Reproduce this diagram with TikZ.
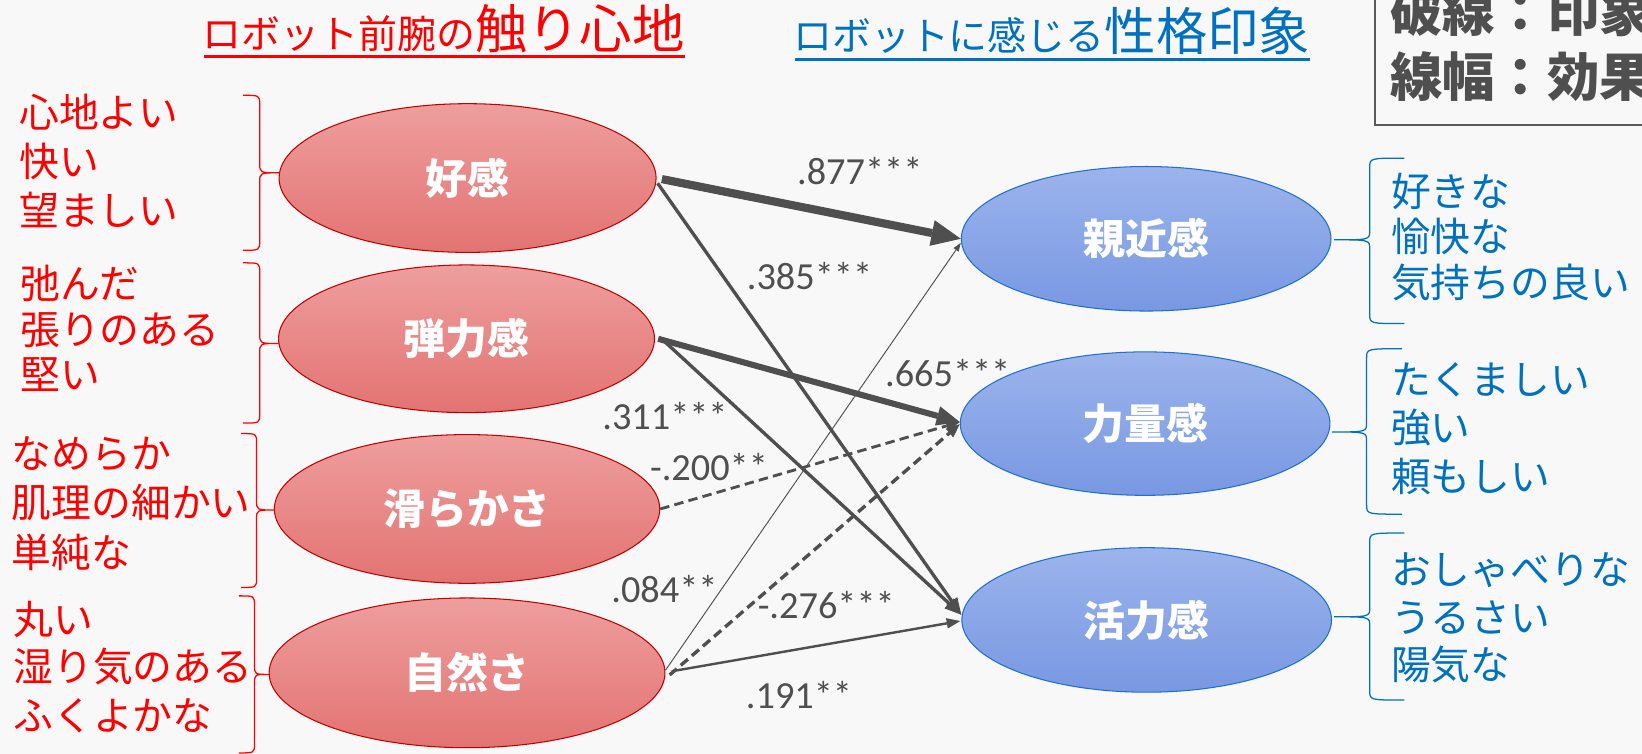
\documentclass[tikz,border=0pt]{standalone}
\usepackage{fontspec}
\newfontfamily\jp{Noto Sans CJK JP}
\newfontfamily\lat{Carlito}
\usetikzlibrary{shapes.geometric,arrows.meta}
\definecolor{bgc}{HTML}{F8F8F8}
\definecolor{tred}{HTML}{FF0000}
\definecolor{tblue}{HTML}{0070C0}
\definecolor{lineg}{HTML}{4F4F4F}
\definecolor{redt}{HTML}{EE9E9E}
\definecolor{redbot}{HTML}{E27472}
\definecolor{redb}{HTML}{C00000}
\definecolor{bluet}{HTML}{9CB4EC}
\definecolor{bluebot}{HTML}{7898E2}
\definecolor{blueb}{HTML}{1F6FCF}
\definecolor{boxg}{HTML}{5A5A5A}
\newcommand\mybrace[7]{%
 \draw[#1] (#2,#5) .. controls (#3,#5) .. (#3,#5+9) -- (#3,#6-9) .. controls (#3,#6) .. (#4,#6) .. controls (#3,#6) .. (#3,#6+9) -- (#3,#7-9) .. controls (#3,#7) .. (#2,#7);}
\begin{document}
\begin{tikzpicture}[x=0.5pt,y=-0.5pt,
  redell/.style={ellipse, draw=redb, line width=0.5pt, top color=redt, bottom color=redbot, inner sep=0pt, text=white, font=\jp\bfseries\fontsize{20}{24}\selectfont},
  blueell/.style={ellipse, draw=blueb, line width=0.5pt, top color=bluet, bottom color=bluebot, inner sep=0pt, text=white, font=\jp\bfseries\fontsize{20}{24}\selectfont},
  ltxt/.style={anchor=base west, inner sep=0pt, text=tred, font=\jp\fontsize{19}{23}\selectfont},
  rtxt/.style={anchor=base west, inner sep=0pt, text=tblue, font=\jp\fontsize{19}{23}\selectfont},
  lbl/.style={anchor=base, inner sep=0pt, text=lineg, font=\lat\fontsize{18.3}{22}\selectfont},
  ar/.style={draw=lineg},
  a877/.style={ar, line width=3.9pt, -{Triangle[length=14pt,width=12.5pt,line width=0pt]}},
  a665/.style={ar, line width=2.9pt, -{Triangle[length=11pt,width=9.5pt,line width=0pt]}},
  amid/.style={ar, line width=1.6pt, -{Triangle[length=8pt,width=6.5pt,line width=0pt]}},
  adash/.style={ar, dash pattern=on 4.5pt off 2.5pt, -{Triangle[length=6.5pt,width=5.5pt,line width=0pt]}},
  a191/.style={ar, line width=1.15pt, -{Triangle[length=6.5pt,width=5pt,line width=0pt]}},
  a084/.style={ar, line width=0.45pt, -{Triangle[length=4pt,width=3pt,line width=0pt]}},
  lbr/.style={draw=tred, line width=0.6pt},
  bbr/.style={draw=tblue, line width=0.6pt}]
\useasboundingbox (0,0) rectangle (1568,720);
\fill[bgc] (0,0) rectangle (1568,720);
\clip (0,0) rectangle (1568,720);

% titles
\node[anchor=base west, inner sep=0pt, text=tred, font=\jp] (tl) at (193,46) {\fontsize{18.6}{22}\selectfont ロボット前腕の\fontsize{25}{30}\selectfont 触り心地};
\draw[tred, line width=1.6pt] ([shift={(2,8)}]tl.base west) -- ([shift={(0,8)}]tl.base east);
\node[anchor=base west, inner sep=0pt, text=tblue, font=\jp] (tr) at (757,48) {\fontsize{18.6}{22}\selectfont ロボットに感じる\fontsize{24.5}{30}\selectfont 性格印象};
\draw[tblue, line width=1.6pt] ([shift={(2,8.7)}]tr.base west) -- ([shift={(0,8.7)}]tr.base east);

% legend box
\draw[boxg, line width=1pt] (1313,-10) rectangle (1620,119.5);
\node[anchor=base west, inner sep=0pt, text=lineg, font=\jp\bfseries\fontsize{25}{30}\selectfont] (bx1) at (1327,30) {破線：印象};
\node[anchor=base west, inner sep=0pt, text=lineg, font=\jp\bfseries\fontsize{25}{30}\selectfont] (bx2) at (1327,92) {線幅：効果};

% ellipses
\node[redell, minimum width=180pt, minimum height=71pt] (hk) at (446.5,170) {好感};
\node[redell, minimum width=179.5pt, minimum height=70.5pt] (dk) at (445.5,323.5) {弾力感};
\node[redell, minimum width=184pt, minimum height=71pt] (nm) at (446,486) {滑らかさ};
\node[redell, minimum width=189pt, minimum height=71.5pt] (sz) at (446,642.5) {自然さ};
\node[blueell, minimum width=176.5pt, minimum height=69pt] (sk) at (1094.5,228) {親近感};
\node[blueell, minimum width=176.5pt, minimum height=68.5pt] (rk) at (1093.5,404.5) {力量感};
\node[blueell, minimum width=176.5pt, minimum height=69pt] (kk) at (1095,592) {活力感};

% braces
\mybrace{lbr}{232}{248}{267}{91}{165}{239}
\mybrace{lbr}{232}{248}{266}{251}{328}{404}
\mybrace{lbr}{230}{245}{262}{414}{487}{561}
\mybrace{lbr}{228}{243}{257}{569}{644}{719}
\mybrace{bbr}{1341}{1308}{1274}{151}{229}{309}
\mybrace{bbr}{1339}{1305}{1272}{333}{412.5}{491}
\mybrace{bbr}{1341}{1308}{1274}{509}{589}{668.5}

% left texts
\node[ltxt] (l11) at (18,122) {心地よい};
\node[ltxt] (l12) at (18,169) {快い};
\node[ltxt] (l13) at (18,215) {望ましい};
\node[ltxt] (l21) at (19,285) {弛んだ};
\node[ltxt] (l22) at (19,329) {張りのある};
\node[ltxt] (l23) at (19,372) {堅い};
\node[ltxt] (l31) at (11,447) {なめらか};
\node[ltxt] (l32) at (11,494) {肌理の細かい};
\node[ltxt] (l33) at (11,542) {単純な};
\node[ltxt] (l41) at (12.5,606) {丸い};
\node[ltxt] (l42) at (12.5,651) {湿り気のある};
\node[ltxt] (l43) at (12.5,698) {ふくよかな};

% right texts
\node[rtxt] (r11) at (1328,197) {好きな};
\node[rtxt] (r12) at (1328,240) {愉快な};
\node[rtxt] (r13) at (1328,284) {気持ちの良い};
\node[rtxt] (r21) at (1328,377) {たくましい};
\node[rtxt] (r22) at (1328,423) {強い};
\node[rtxt] (r23) at (1328,469.5) {頼もしい};
\node[rtxt] (r31) at (1328,558) {おしゃべりな};
\node[rtxt] (r32) at (1328,604) {うるさい};
\node[rtxt] (r33) at (1328,649) {陽気な};

% arrows
\draw[a084] ([shift={(0,-2.5)}]sz.east) -- ([shift={(0,4)}]sk.west);
\draw[amid] ([shift={(1,5)}]hk.east) -- ([shift={(0,-5)}]kk.west);
\draw[amid] ([shift={(9,2.5)}]dk.east) -- ([shift={(0,-5)}]kk.west);
\draw[adash, line width=1.35pt] (nm.east) -- ([shift={(0,-1.5)}]rk.west);
\draw[adash, line width=1.6pt] ([shift={(4,2)}]sz.east) -- ([shift={(0,0.5)}]rk.west);
\draw[a191] ([shift={(6,-1.5)}]sz.east) -- ([shift={(-1,1)}]kk.west);
\draw[a665] ([shift={(3,0)}]dk.east) -- ([shift={(0,-1.5)}]rk.west);
\draw[a877] ([shift={(5,1)}]hk.east) -- (sk.west);

% labels
\node[lbl] (p877) at (821,176.5) {.877***};
\node[lbl] (p385) at (773,276) {.385***};
\node[lbl] (p665) at (905,369.5) {.665***};
\node[lbl] (p311) at (635,410.5) {.311***};
\node[lbl] (p200) at (677,458.5) {-.200**};
\node[lbl] (p084) at (634.5,575) {.084**};
\node[lbl] (p276) at (789,591) {-.276***};
\node[lbl] (p191) at (763,677) {.191**};
\end{tikzpicture}
\end{document}
